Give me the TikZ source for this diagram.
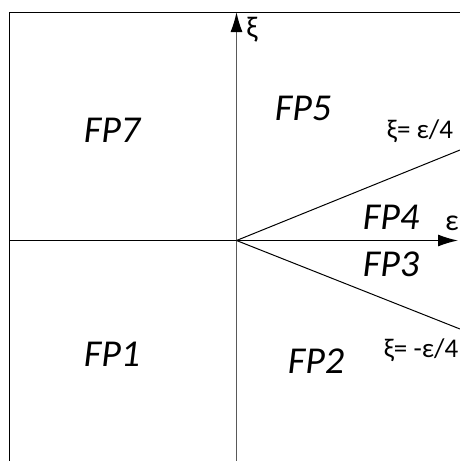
\documentclass[tikz,border=0pt]{standalone}
\usepackage{fontspec}
\setmainfont{Carlito}
\usetikzlibrary{arrows.meta}
\begin{document}
\begin{tikzpicture}[x=1pt,y=-1pt,
  frame/.style={line width=1.6pt,black},
  axis/.style={line width=1.3pt},
  ray/.style={line width=1pt},
  region/.style={font=\itshape\fontsize{38}{38}\selectfont},
  eqlabel/.style={font=\fontsize{27}{27}\selectfont},
  axlabel/.style={font=\fontsize{30}{30}\selectfont}]
\useasboundingbox (0,0) rectangle (460,461);
\coordinate (O) at (236.5,240.5);
\coordinate (ytop) at (236.5,12);
\coordinate (ybot) at (236.5,461);
\coordinate (xl) at (9.5,240.5);
\coordinate (xr) at (458,240.5);
\coordinate (rup) at (460,150);
\coordinate (rdn) at (460,329);
\draw[axis,-{Latex[length=20pt,width=12pt]}] (xl) -- (xr);
\draw[axis,gray!70!black,-{Latex[length=20pt,width=12pt,fill=black,color=black]}] (ybot) -- (ytop);
\draw[frame] (9.5,461) -- (9.5,12.5) -- (460,12.5);
\draw[ray] (O) -- (rup);
\draw[ray] (O) -- (rdn);
\node[region] (fp7) at (112,130) {FP7};
\node[region] (fp5) at (303,108) {FP5};
\node[region] (fp4) at (391,217) {FP4};
\node[region] (fp3) at (391,264) {FP3};
\node[region] (fp1) at (112,354) {FP1};
\node[region] (fp2) at (316,361) {FP2};
\node[eqlabel] (e1) at (420,131) {ξ= ε/4};
\node[eqlabel] (e2) at (421,350) {ξ= -ε/4};
\node[axlabel] (lx) at (252,30) {ξ};
\node[axlabel] (le) at (452,223) {ε};
\end{tikzpicture}
\end{document}
